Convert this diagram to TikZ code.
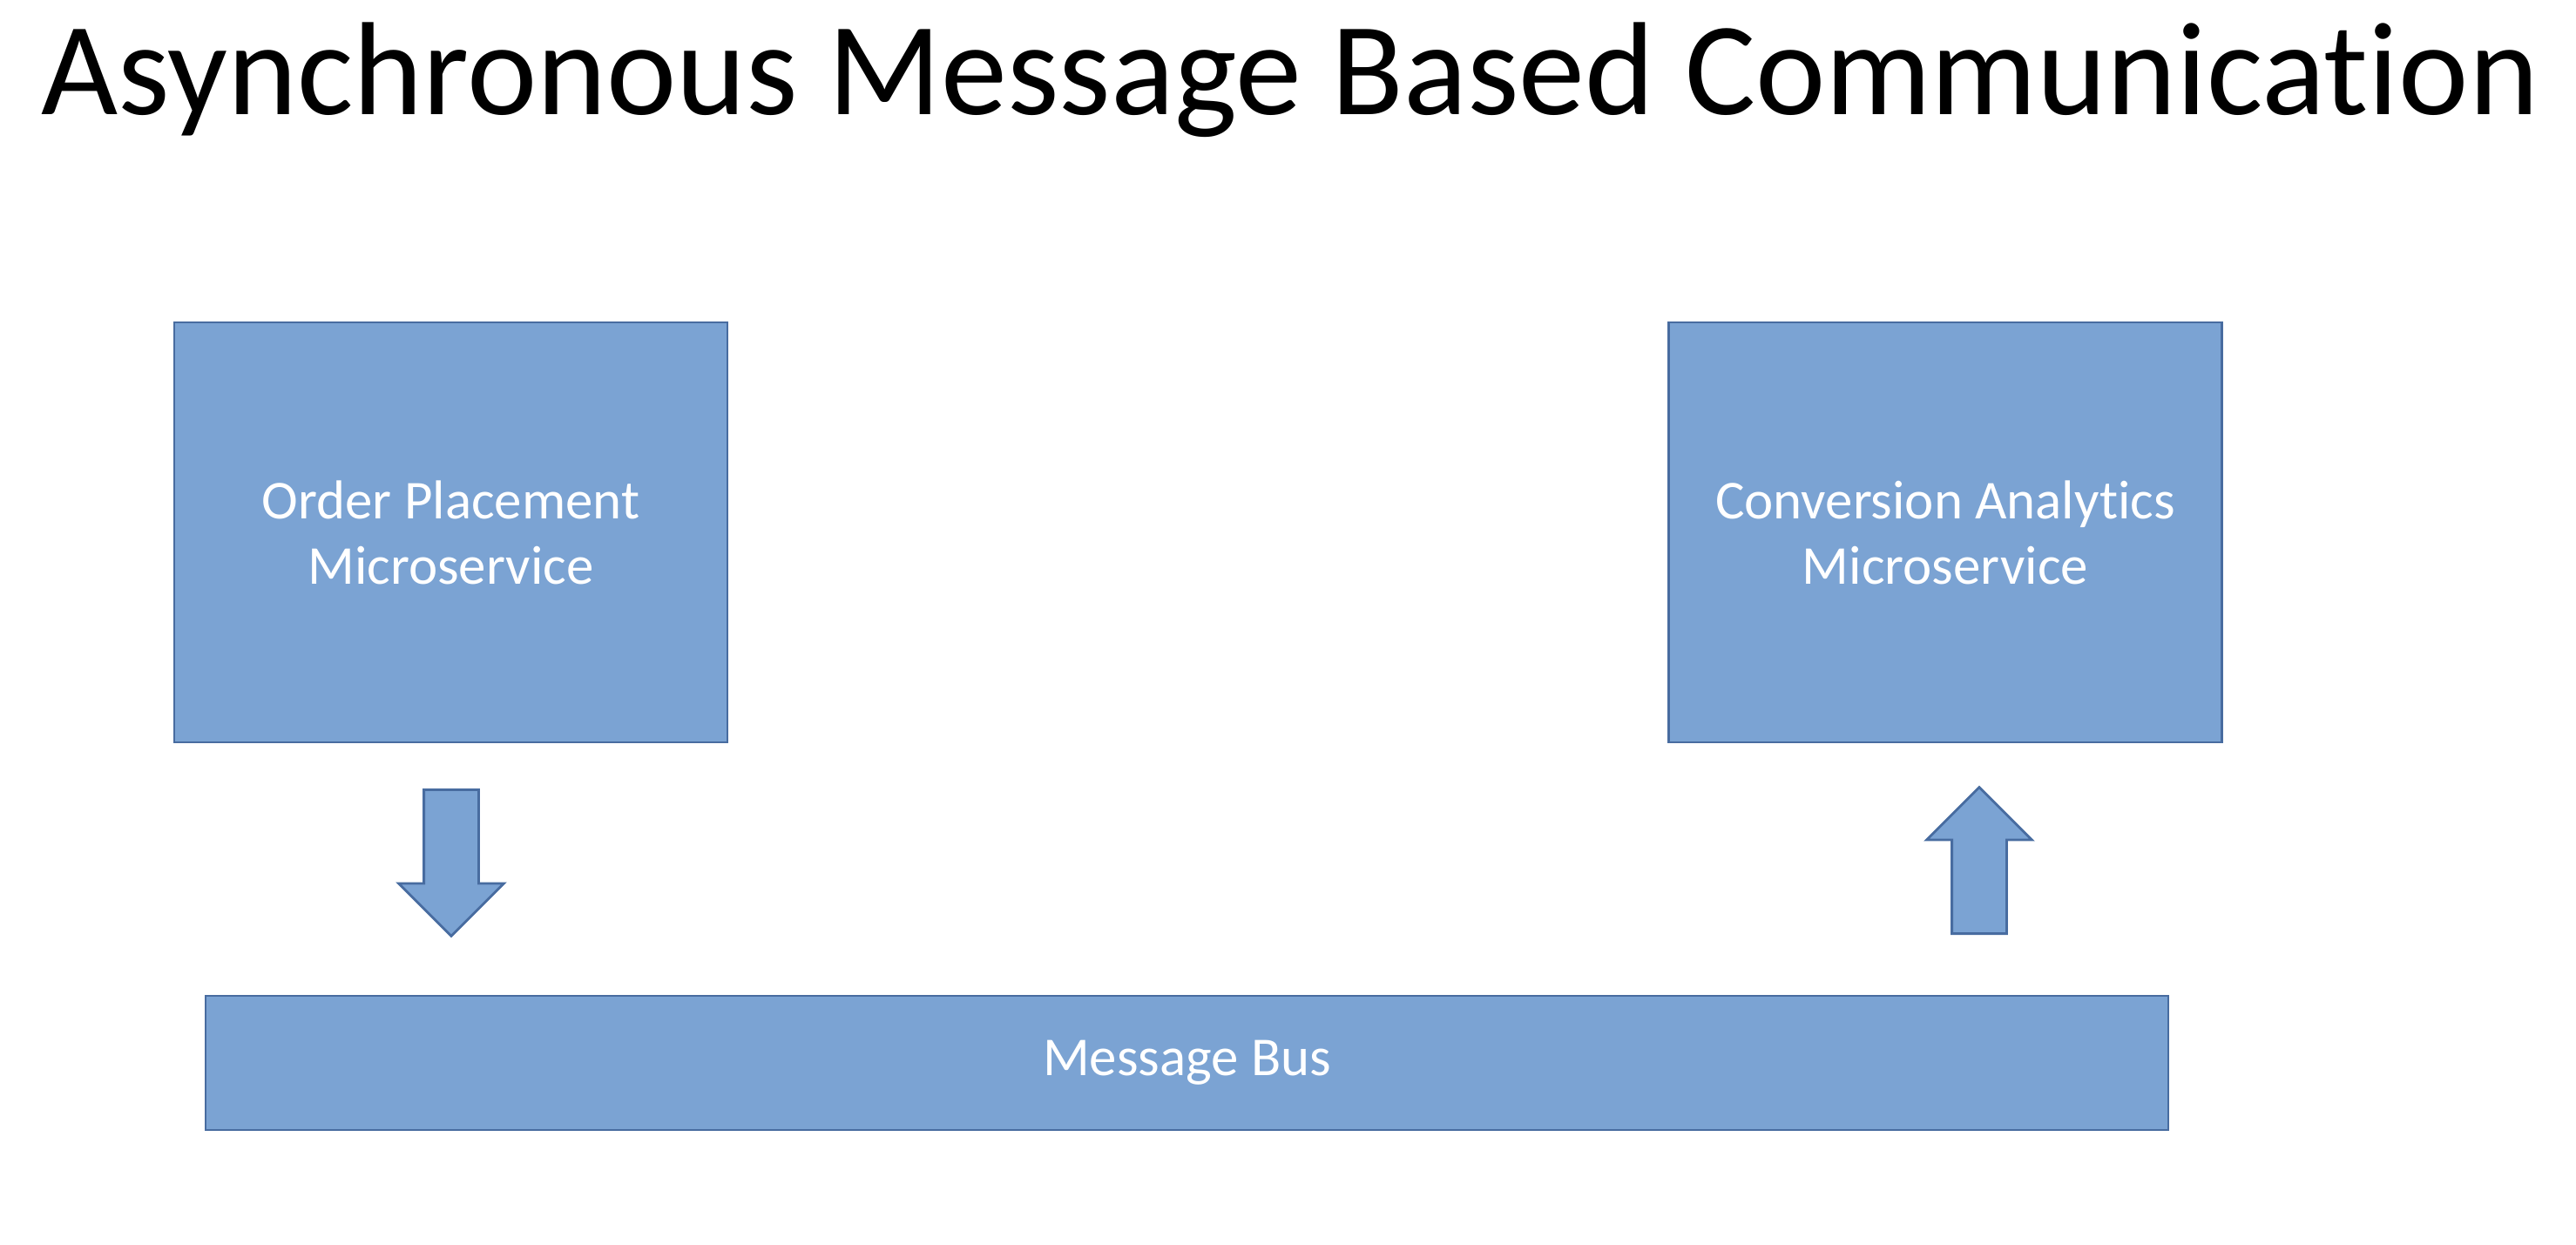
\documentclass[tikz,border=0pt]{standalone}
\usepackage{fontspec}
\setmainfont{Carlito}[Ligatures=NoCommon]
\usepackage{tikz}
\usetikzlibrary{shapes.arrows,positioning}
\definecolor{boxblue}{RGB}{123,163,211}
\definecolor{edgeblue}{RGB}{72,108,160}

\begin{document}
\begin{tikzpicture}[
  service/.style={draw=edgeblue, fill=boxblue, line width=0.8pt, text=white, minimum width=6.35cm, minimum height=4.82cm, align=center, font=\fontsize{17.9}{21.3}\selectfont},
  flow/.style={single arrow, draw=edgeblue, fill=boxblue, line width=0.8pt, minimum height=1.68cm, minimum width=1.2cm, single arrow head extend=0.29cm, single arrow head indent=0pt, inner sep=0.3cm, shape border rotate=#1, anchor=tail}
]
  \useasboundingbox (0,0) rectangle (29.57,14.28);
  \node[anchor=base west, inner sep=0pt, font=\fontsize{43.3}{48}\selectfont] (title) at (0.47,12.96) {Asynchronous Message Based Communication};

  \node[service]                         (order) at (5.175,8.17)  {Order Placement\\Microservice};
  \node[service]                         (conv)  at (22.33,8.17)  {Conversion Analytics\\Microservice};
  \node[service, minimum width=22.53cm, minimum height=1.54cm] (bus) at (13.625,2.08) {Message Bus};

  \node[flow=270] (pub) at (5.18,5.23)  {};
  \node[flow=90]  (sub) at (22.72,3.55) {};
\end{tikzpicture}
\end{document}
